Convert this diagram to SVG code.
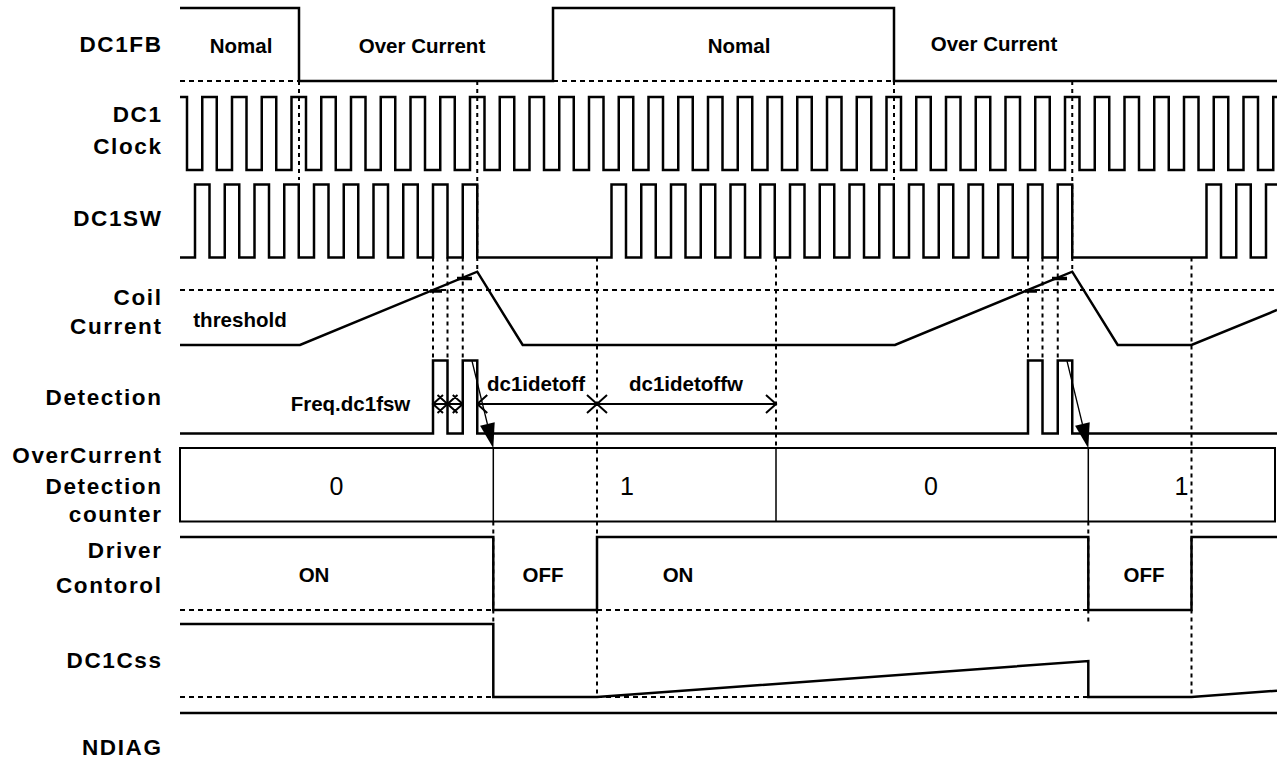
<svg xmlns="http://www.w3.org/2000/svg" width="1277" height="784" viewBox="0 0 1277 784">
<style>
.sig{fill:none;stroke:#000;stroke-width:2.5;stroke-linejoin:miter}
.dh{fill:none;stroke:#000;stroke-width:2;stroke-dasharray:5 4}
.dv{fill:none;stroke:#000;stroke-width:2;stroke-dasharray:4 4}
.thin{fill:none;stroke:#000;stroke-width:1.5}
.dim{fill:none;stroke:#000;stroke-width:2}
.lbl{font-family:"Liberation Sans",Arial,sans-serif;font-weight:bold;font-size:22.5px;letter-spacing:1.6px;text-anchor:end;fill:#000}
.t{font-family:"Liberation Sans",Arial,sans-serif;font-weight:bold;font-size:20.5px;text-anchor:middle;fill:#000}
.n{font-family:"Liberation Sans",Arial,sans-serif;font-size:25px;text-anchor:middle;fill:#000}
</style>
<rect width="1277" height="784" fill="#fff"/>
<g id="labels">
<text class="lbl" x="162.5" y="52">DC1FB</text>
<text class="lbl" x="162.5" y="122">DC1</text>
<text class="lbl" x="162.5" y="154">Clock</text>
<text class="lbl" x="162.5" y="226">DC1SW</text>
<text class="lbl" x="162.5" y="305">Coil</text>
<text class="lbl" x="162.5" y="334">Current</text>
<text class="lbl" x="162.5" y="405">Detection</text>
<text class="lbl" x="162.5" y="463">OverCurrent</text>
<text class="lbl" x="162.5" y="494">Detection</text>
<text class="lbl" x="162.5" y="522">counter</text>
<text class="lbl" x="162.5" y="558">Driver</text>
<text class="lbl" x="162.5" y="593">Contorol</text>
<text class="lbl" x="162.5" y="668">DC1Css</text>
<text class="lbl" x="162.5" y="755">NDIAG</text>
</g>
<g id="guides">
<path class="dh" d="M180,81H299M553,81H894M180,290H1277M180,610H493M597,610H1088M180,697H493M597,697H1088"/>
<path class="dv" d="M299,81V180M477.25,81V271.7M894,81V180M1072.25,81V271.7M433,257.5V360.5M447.5,257.5V360.5M462.75,257.5V360.5M1028,257.5V360.5M1042.5,257.5V360.5M1057.75,257.5V360.5M597,257.5V697M1191.5,257.5V697M776,257.5V448M493.3,521.5V624M1088.3,521.5V624"/>
</g>
<g id="dc1fb">
<path class="sig" d="M180,8H299V81H553V8H894V81H1277"/>
<text class="t" x="241" y="53">Nomal</text>
<text class="t" x="422" y="53">Over Current</text>
<text class="t" x="739" y="53">Nomal</text>
<text class="t" x="994" y="51">Over Current</text>
</g>
<g id="clock">
<path class="sig" d="M180,97H187V170H202.25V97H216.75V170H232V97H246.5V170H261.75V97H276.25V170H291.5V97H306V170H321.25V97H335.75V170H351V97H365.5V170H380.75V97H395.25V170H410.5V97H425V170H440.25V97H454.75V170H470V97H484.5V170H499.75V97H514.25V170H529.5V97H544V170H559.25V97H573.75V170H589V97H603.5V170H618.75V97H633.25V170H648.5V97H663V170H678.25V97H692.75V170H708V97H722.5V170H737.75V97H752.25V170H767.5V97H782V170H797.25V97H811.75V170H827V97H841.5V170H856.75V97H871.25V170H886.5V97H901V170H916.25V97H930.75V170H946V97H960.5V170H975.75V97H990.25V170H1005.5V97H1020V170H1035.25V97H1049.75V170H1065V97H1079.5V170H1094.75V97H1109.25V170H1124.5V97H1139V170H1154.25V97H1168.75V170H1184V97H1198.5V170H1213.75V97H1228.25V170H1243.5V97H1258V170H1273.25V97H1277"/>
</g>
<g id="dc1sw">
<path class="sig" d="M180,257.5H195V184.5H209.5V257.5H224.75V184.5H239.25V257.5H254.5V184.5H269V257.5H284.25V184.5H298.75V257.5H314V184.5H328.5V257.5H343.75V184.5H358.25V257.5H373.5V184.5H388V257.5H403.25V184.5H417.75V257.5H433V184.5H447.5V257.5H462.75V184.5H477.25V257.5H611.5V184.5H626V257.5H641.25V184.5H655.75V257.5H671V184.5H685.5V257.5H700.75V184.5H715.25V257.5H730.5V184.5H745V257.5H760.25V184.5H774.75V257.5H790V184.5H804.5V257.5H819.75V184.5H834.25V257.5H849.5V184.5H864V257.5H879.25V184.5H893.75V257.5H909V184.5H923.5V257.5H938.75V184.5H953.25V257.5H968.5V184.5H983V257.5H998.25V184.5H1012.75V257.5H1028V184.5H1042.5V257.5H1057.75V184.5H1072.25V257.5H1206.5V184.5H1221V257.5H1236.25V184.5H1250.75V257.5H1266V184.5H1277"/>
</g>
<g id="coil">
<path class="sig" d="M180,345H300L477.25,271.7L522.7,345H895L1072.25,271.7L1117.7,345H1191.5L1277,310"/>
<path fill="none" stroke="#000" stroke-width="3.5" d="M430,291H442M457,278.5H472M1025,291H1037M1052,278.5H1067"/>
<text class="t" x="240" y="327">threshold</text>
</g>
<g id="detection">
<path class="sig" d="M180,433.5H433V360.5H447.5V433.5H462.75V360.5H477.25V433.5H1028V360.5H1042.5V433.5H1057.75V360.5H1072.25V433.5H1277"/>
</g>
<g id="dimensions">
<path class="dim" d="M433,404H447.5M447.5,404H462.75M477.25,404H597M597,404H776"/>
<path class="dim" d="M443,395L433,404L443,413M437.5,395L447.5,404L437.5,413M457.5,395L447.5,404L457.5,413M452.75,395L462.75,404L452.75,413M487.25,395L477.25,404L487.25,413M587,395L597,404L587,413M607,395L597,404L607,413M766,395L776,404L766,413"/>
<text class="t" x="350.5" y="411">Freq.dc1fsw</text>
<text class="t" x="536" y="391">dc1idetoff</text>
<text class="t" x="686" y="391">dc1idetoffw</text>
</g>
<g id="counter">
<rect x="180" y="448" width="1095" height="73.5" fill="none" stroke="#000" stroke-width="2"/>
<path class="thin" d="M493.3,448V521.5M776,448V521.5M1088.3,448V521.5"/>
<text class="n" x="336.5" y="495">0</text>
<text class="n" x="627" y="495">1</text>
<text class="n" x="931" y="495">0</text>
<text class="n" x="1181.5" y="495">1</text>
</g>
<g id="connectors">
<path fill="none" stroke="#000" stroke-width="1.3" d="M472,361L487.4,424M1067,361L1082.4,424"/>
<polygon points="493.3,448.3 494.7,422.2 480.1,425.8" fill="#000"/>
<polygon points="1088.3,448.3 1089.7,422.2 1075.1,425.8" fill="#000"/>
</g>
<g id="driver">
<path class="sig" d="M180,537H493.3V610H597V537H1088.3V610H1191.5V537H1277"/>
<text class="t" x="314" y="582">ON</text>
<text class="t" x="543" y="582">OFF</text>
<text class="t" x="678" y="582">ON</text>
<text class="t" x="1144" y="582">OFF</text>
</g>
<g id="dc1css">
<path class="sig" d="M180,624H493.3V697H597L1088.3,661V697H1191.5L1277,690.7"/>
</g>
<g id="ndiag">
<path class="sig" d="M180,713H1277"/>
</g>
</svg>
